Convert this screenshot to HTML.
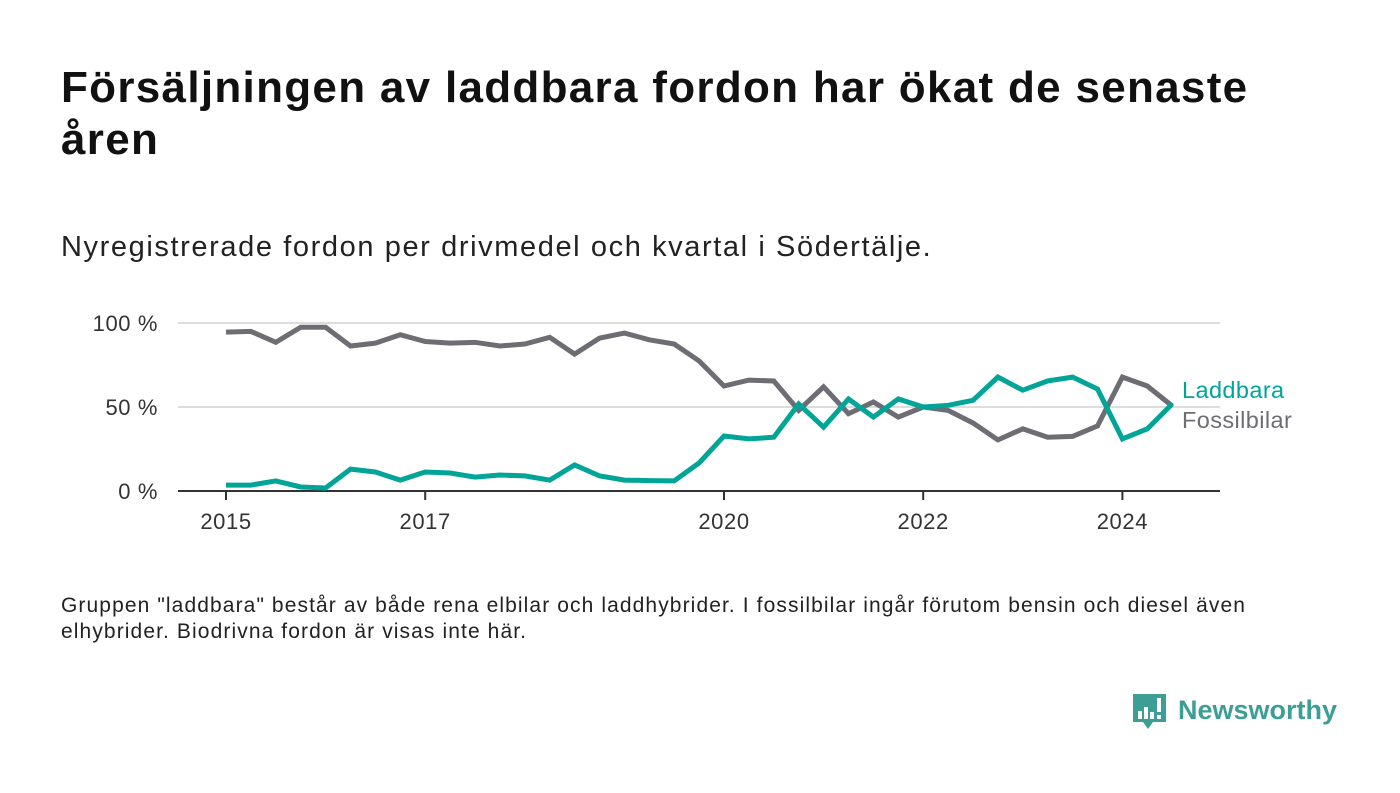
<!DOCTYPE html>
<html><head><meta charset="utf-8"><style>
body{margin:0;width:1400px;height:793px;background:#fff;font-family:"Liberation Sans",sans-serif;color:#111;position:relative;overflow:hidden}
#title{position:absolute;left:61px;top:62px;width:1220px;font-size:44px;font-weight:bold;line-height:52px;margin:0;color:#111;letter-spacing:1.3px}
#sub{position:absolute;left:61px;top:231px;font-size:29px;color:#222;letter-spacing:1.6px}
#note{position:absolute;left:61px;top:593px;font-size:21px;line-height:26px;color:#222;width:1240px;letter-spacing:1.1px}
#logo{position:absolute;left:1133px;top:692px}
svg text{font-family:"Liberation Sans",sans-serif}
</style></head><body>
<h1 id="title">Försäljningen av laddbara fordon har ökat de senaste åren</h1>
<div id="sub">Nyregistrerade fordon per drivmedel och kvartal i Södertälje.</div>
<svg id="chart" width="1400" height="793" style="position:absolute;left:0;top:0"></svg>
<div id="note">Gruppen "laddbara" består av både rena elbilar och laddhybrider. I fossilbilar ingår förutom bensin och diesel även elhybrider. Biodrivna fordon är visas inte här.</div>
<div id="logo">
<svg width="210" height="42"><path d="M0 2h33v28H20l-5 7-5-7H0z" fill="#3d9e96"/><rect x="5" y="19" width="4" height="8" fill="#fff"/><rect x="11" y="15" width="4" height="12" fill="#fff"/><rect x="17" y="20" width="4" height="7" fill="#fff"/><rect x="24" y="6" width="4" height="14" fill="#fff"/><rect x="24" y="23" width="4" height="4" fill="#fff"/>
<text x="45" y="27" font-size="27" font-weight="bold" fill="#3d9e96">Newsworthy</text></svg></div>
<script>
const years=[2015,2017,2020,2022,2024];
const yTicks=[0,50,100];
const laddbara=[3.5,3.5,6,2.4,1.8,13,11.3,6.5,11.3,10.7,8.3,9.5,9,6.5,15.5,9,6.5,6.2,6,16.7,32.7,31,32,51.8,38,54.8,44,54.8,50,51,54,67.8,60,65.5,67.8,60.7,31,37,51.8];
const fossil=[94.6,95,88.5,97.5,97.5,86.3,88,93,89,88,88.5,86.3,87.5,91.5,81.5,91,94,90,87.5,77.4,62.5,66,65.5,48,62,46,53,44,50,48,40.5,30.4,37,32,32.5,38.7,67.8,62.5,50.6];
const NS="http://www.w3.org/2000/svg",svg=document.getElementById('chart');
const x=t=>226+(t-2015)*99.6;
const xi=i=>x(2015+i/4);
const y=v=>491-v*1.68;
function mk(tag,attrs,parent){const e=document.createElementNS(NS,tag);for(const k in attrs)e.setAttribute(k,attrs[k]);(parent||svg).appendChild(e);return e;}
yTicks.forEach(v=>{
 if(v>0){const g=mk('line',{x1:178,x2:1220,y1:y(v),y2:y(v),stroke:'#ddd','stroke-width':2});
 
 }
 const t=mk('text',{x:158,y:y(v)+8,'text-anchor':'end','font-size':22,fill:'#333','letter-spacing':0.6});t.textContent=v+' %';
 
 
});
const ax=mk('line',{x1:178,x2:1220,y1:491,y2:491,stroke:'#333','stroke-width':2});


years.forEach(yr=>{
 const tk=mk('line',{x1:x(yr),x2:x(yr),y1:491,y2:500,stroke:'#333','stroke-width':2});
 
 
 const t=mk('text',{x:x(yr),y:529,'text-anchor':'middle','font-size':22,fill:'#333','letter-spacing':0.6});t.textContent=yr;
 
 
});
function line(data,color,name){
 const p=mk('polyline',{points:data.map((v,i)=>xi(i)+','+y(v)).join(' '),fill:'none',stroke:color,'stroke-width':5,'stroke-linejoin':'miter'});
 
 
}
line(fossil,'#6e6d74','fossilbilar-line');
line(laddbara,'#00a598','laddbara-line');
const l1=mk('text',{x:1182,y:398,'font-size':23.5,fill:'#00a598','letter-spacing':0.4});l1.textContent='Laddbara';


const l2=mk('text',{x:1182,y:428,'font-size':23.5,fill:'#6e6d74','letter-spacing':0.4});l2.textContent='Fossilbilar';


</script>
</body></html>
